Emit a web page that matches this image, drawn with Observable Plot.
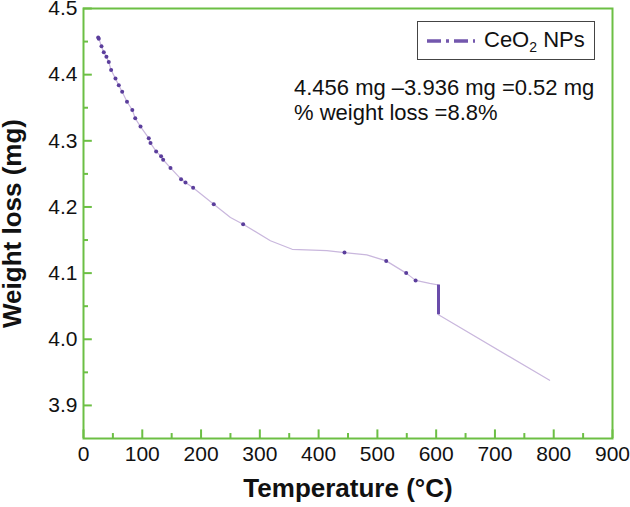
<!DOCTYPE html>
<html>
<head>
<meta charset="utf-8">
<script src="https://cdn.jsdelivr.net/npm/d3@7"></script>
<script src="https://cdn.jsdelivr.net/npm/@observablehq/plot@0.6"></script>
<style>
  html, body { margin: 0; padding: 0; background: #fff; }
  #wrap { position: relative; width: 630px; height: 507px; font-family: "Liberation Sans", Arial, sans-serif; }
  #legend { position: absolute; left: 417px; top: 21px; width: 178px; height: 39px; border: 1px solid #444; background: #fff; box-sizing: border-box; }
  #legend svg { position: absolute; left: 7px; top: 13px; }
  #legend span { position: absolute; left: 66px; top: 5px; font-size: 22px; color: #111; white-space: nowrap; }
  #note { position: absolute; left: 294px; top: 75px; font-size: 22px; line-height: 25px; color: #111; white-space: nowrap; }
</style>
</head>
<body>
<div id="wrap">
  <div id="chart"></div>
  <div id="legend"><svg width="52" height="12"><line x1="2" x2="50" y1="6" y2="6" stroke="#7357ad" stroke-width="3.5" stroke-dasharray="14,5,3,5"/></svg><span>CeO<sub style="font-size:14px">2</sub> NPs</span></div>
  <div id="note">4.456 mg –3.936 mg =0.52 mg<br>% weight loss =8.8%</div>
</div>
<script>
// Measured curve (temperature °C, weight mg)
const curveT = [25, 26, 30.6, 34.5, 39, 43, 47, 54.4, 60, 65.8, 74, 83, 88, 97, 111, 114, 123.6, 132, 135.5, 148, 166, 173.5, 186.5, 221.6, 250, 271.6, 318, 355, 414, 444, 482, 515, 549, 565, 589, 604, 604, 793];
const curveW = [4.456, 4.4544, 4.443, 4.434, 4.427, 4.419, 4.407, 4.394, 4.384, 4.374, 4.359, 4.3466, 4.334, 4.3215, 4.304, 4.2965, 4.284, 4.2765, 4.2714, 4.259, 4.242, 4.237, 4.229, 4.204, 4.184, 4.174, 4.149, 4.136, 4.134, 4.131, 4.1275, 4.1185, 4.100, 4.089, 4.0845, 4.082, 4.037, 3.938];
// Recorded marker points
const markT = [25, 26, 30.6, 34.5, 39, 43, 47, 54.4, 60, 65.8, 74, 83, 88, 97, 111, 114, 123.6, 132, 135.5, 148, 166, 173.5, 186.5, 221.6, 271.6, 444, 515, 549, 565];
const markW = [4.456, 4.4544, 4.443, 4.434, 4.427, 4.419, 4.407, 4.394, 4.384, 4.374, 4.359, 4.3466, 4.334, 4.3215, 4.304, 4.2965, 4.284, 4.2765, 4.2714, 4.259, 4.242, 4.237, 4.229, 4.204, 4.174, 4.131, 4.1185, 4.100, 4.089];
// Step drop at 604 °C
const dropT = [604];
const dropTop = [4.082];
const dropBottom = [4.037];

const xMajor = [0, 100, 200, 300, 400, 500, 600, 700, 800, 900];
const xMinor = [50, 150, 250, 350, 450, 550, 650, 750, 850];
const yMajor = [3.9, 4.0, 4.1, 4.2, 4.3, 4.4, 4.5];
const yMinor = [3.95, 4.05, 4.15, 4.25, 4.35, 4.45];

const xDomain = [0, 900];
const yDomain = [3.85, 4.5];

const curve = curveT.map((t, i) => ({t, w: curveW[i]}));
const marks = markT.map((t, i) => ({t, w: markW[i]}));
const drop = dropT.map((t, i) => ({t, y1: dropTop[i], y2: dropBottom[i]}));

const green = "#6cbf44";
// inward tick lengths expressed in data units
const xTickMajor = 0.013, xTickMinor = 0.0075; // mg
const yTickMajor = 15, yTickMinor = 8.5;        // °C

const chart = Plot.plot({
  width: 630,
  height: 507,
  marginLeft: 83,
  marginRight: 18,
  marginTop: 8,
  marginBottom: 69,
  style: {fontFamily: "'Liberation Sans', Arial, sans-serif", fontSize: "21px", color: "#111", background: "#fff"},
  x: {domain: xDomain},
  y: {domain: yDomain},
  marks: [
    Plot.axisX(xMajor, {tickSize: 0, tickPadding: 8, tickFormat: d => String(d), fontSize: 21, label: "Temperature (°C)", labelAnchor: "center", labelArrow: "none", labelOffset: 58, fill: "#111"}),
    Plot.axisY(yMajor, {tickSize: 0, tickPadding: 6, tickFormat: d => d.toFixed(1), fontSize: 21, label: "Weight loss (mg)", labelAnchor: "center", labelArrow: "none", labelOffset: 81, fill: "#111"}),
    // inward ticks
    Plot.ruleX(xMajor, {y1: yDomain[0], y2: yDomain[0] + xTickMajor, stroke: green, strokeWidth: 2}),
    Plot.ruleX(xMinor, {y1: yDomain[0], y2: yDomain[0] + xTickMinor, stroke: green, strokeWidth: 2}),
    Plot.ruleY(yMajor, {x1: xDomain[0], x2: xDomain[0] + yTickMajor, stroke: green, strokeWidth: 2}),
    Plot.ruleY(yMinor, {x1: xDomain[0], x2: xDomain[0] + yTickMinor, stroke: green, strokeWidth: 2}),
    Plot.frame({stroke: green, strokeWidth: 2}),
    Plot.line(curve, {x: "t", y: "w", stroke: "#c9b7dd", strokeWidth: 1.2}),
    Plot.ruleX(drop, {x: "t", y1: "y1", y2: "y2", stroke: "#6a4caa", strokeWidth: 3}),
    Plot.dot(marks, {x: "t", y: "w", r: 2, fill: "#5b3e9c", stroke: "none"})
  ]
});
document.getElementById("chart").appendChild(chart);
// bold axis titles
chart.querySelectorAll("g[aria-label='x-axis label'] text, g[aria-label='y-axis label'] text").forEach(t => {
  t.setAttribute("font-weight", "bold");
  t.setAttribute("font-size", "26");
});
</script>
</body>
</html>
